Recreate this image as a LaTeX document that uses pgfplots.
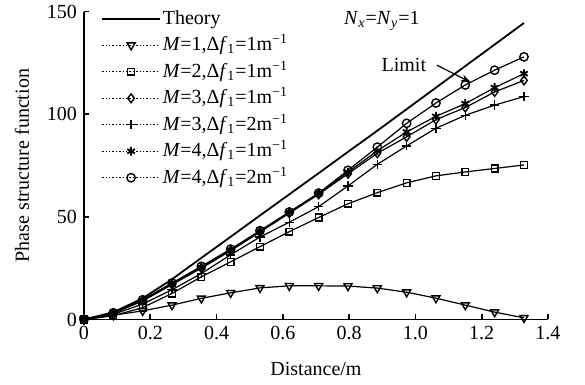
\documentclass[border=0pt]{standalone}
\usepackage{fontspec}
\setmainfont{Liberation Serif}
\usepackage{pgfplots}
\usepackage{pgfplotstable}
\pgfplotsset{compat=1.18}
\usetikzlibrary{arrows.meta}

\pgfplotsset{
  solidlegend/.style={legend image code/.code={\draw[##1] (0pt,0pt) -- (28.8pt,0pt);}},
  dotlegend/.style={legend image code/.code={
    \draw[##1, densely dotted, line width=0.7pt, mark=none] (0pt,0pt) -- (28.8pt,0pt);
    \path[##1, draw=none] plot coordinates {(14.4pt,0pt)};}},
}

\pgfplotstableread{
x       th    mone  mtwo  mtha  mthb  mfoa  mfob
0       0     0     0     0     0     0     0
0.0885  3.5   2.1   1.8   3.0   2.5   3.2   3.3
0.177   10.3  4.2   5.8   9.0   7.5   9.3   9.6
0.2655  19.6  7.0   12.7  17.0  14.5  17.3  17.8
0.354   30.0  10.3  20.8  25.0  22.4  25.3  25.9
0.4425  40.3  13.0  28.1  33.5  31.5  33.8  34.3
0.531   50.7  15.4  35.5  42.6  40.2  43.0  43.3
0.6195  61.0  16.4  42.8  51.8  47.4  52.2  52.4
0.708   71.3  16.4  49.7  61.0  55.0  61.5  61.6
0.7965  81.7  16.3  56.4  71.0  65.1  71.8  72.7
0.885   92.0  15.3  61.8  81.0  75.6  82.2  84.0
0.9735  102.5 13.3  66.6  89.0  84.6  91.4  95.6
1.062   113.0 10.4  70.0  97.4  93.2  99.0  105.5
1.1505  123.5 7.0   71.9  103.3 99.5  105.2 114.3
1.239   134.0 3.6   73.6  110.9 104.5 113.0 121.5
1.3275  144.5 0.8   75.3  116.5 108.6 119.8 128.0
}\data

\begin{document}
\begin{tikzpicture}
\useasboundingbox (-42pt,-32.3pt) rectangle (250.5pt,159.75pt);
\begin{axis}[
  scale only axis, width=232pt, height=153.9pt,
  xmin=0, xmax=1.4, ymin=0, ymax=150,
  axis x line=bottom, axis y line=left,
  axis line style={-, line width=0.9pt},
  tick align=inside, major tick length=2.5pt,
  tick style={line width=0.8pt, black},
  xtick={0,0.2,0.4,0.6,0.8,1.0,1.2,1.4},
  xticklabels={0,0.2,0.4,0.6,0.8,1.0,1.2,1.4},
  ytick={0,50,100,150},
  yticklabels={0,50,100,150},
  /pgf/number format/assume math mode=true,
  clip=false,
  xlabel={Distance/m},
  ylabel={Phase structure function},
  xlabel style={at={(axis description cs:0.5,-0.16)}, anchor=center},
  ylabel style={at={(axis description cs:-0.1336,0.5)}, anchor=center},
  legend cell align=left,
  legend style={at={(axis description cs:0,1)}, anchor=north west,
    xshift=8.5pt, yshift=3.3pt, draw=none, fill=none, inner sep=0pt,
    row sep=0pt,
    nodes={inner sep=1pt, text height=8.5pt, text depth=2.75pt}},
  dotlegend,
  every axis plot/.append style={black, line width=0.6pt},
]
\addplot[mark=none, line width=0.9pt, solidlegend]
  table[x=x,y=th] {\data};
\addlegendentry{Theory}
\addplot[mark=triangle, mark size=2.3pt, mark options={solid, fill=white, rotate=180, line width=0.7pt}]
  table[x=x,y=mone] {\data};
\addlegendentry{\textit{M}=1,Δ\textit{f}\textsubscript{1}=1m\textsuperscript{−1}}
\addplot[mark=square, mark size=1.7pt, mark options={solid, fill=white, line width=0.7pt}]
  table[x=x,y=mtwo] {\data};
\addlegendentry{\textit{M}=2,Δ\textit{f}\textsubscript{1}=1m\textsuperscript{−1}}
\addplot[mark=diamond, mark size=2.2pt, mark options={solid, fill=white, line width=0.7pt}]
  table[x=x,y=mtha] {\data};
\addlegendentry{\textit{M}=3,Δ\textit{f}\textsubscript{1}=1m\textsuperscript{−1}}
\addplot[mark=+, mark size=2.3pt, mark options={solid, line width=0.7pt}]
  table[x=x,y=mthb] {\data};
\addlegendentry{\textit{M}=3,Δ\textit{f}\textsubscript{1}=2m\textsuperscript{−1}}
\addplot[mark=asterisk, mark size=2.2pt, mark options={solid, line width=0.9pt}]
  table[x=x,y=mfoa] {\data};
\addlegendentry{\textit{M}=4,Δ\textit{f}\textsubscript{1}=1m\textsuperscript{−1}}
\addplot[mark=o, mark size=2.1pt, mark options={solid, fill=white, line width=0.7pt}]
  table[x=x,y=mfob] {\data};
\addlegendentry{\textit{M}=4,Δ\textit{f}\textsubscript{1}=2m\textsuperscript{−1}}

\node at (axis cs:0.899,145.3) {\textit{N}\textsubscript{\textit{x}}=\textit{N}\textsubscript{\textit{y}}=1};
\node at (axis cs:0.965,123.9) {Limit};
\draw[line width=0.6pt, -{Stealth[length=5pt,width=3.5pt]}] (axis cs:1.065,123.9) -- (axis cs:1.167,115.6);
\end{axis}
\end{tikzpicture}
\end{document}
